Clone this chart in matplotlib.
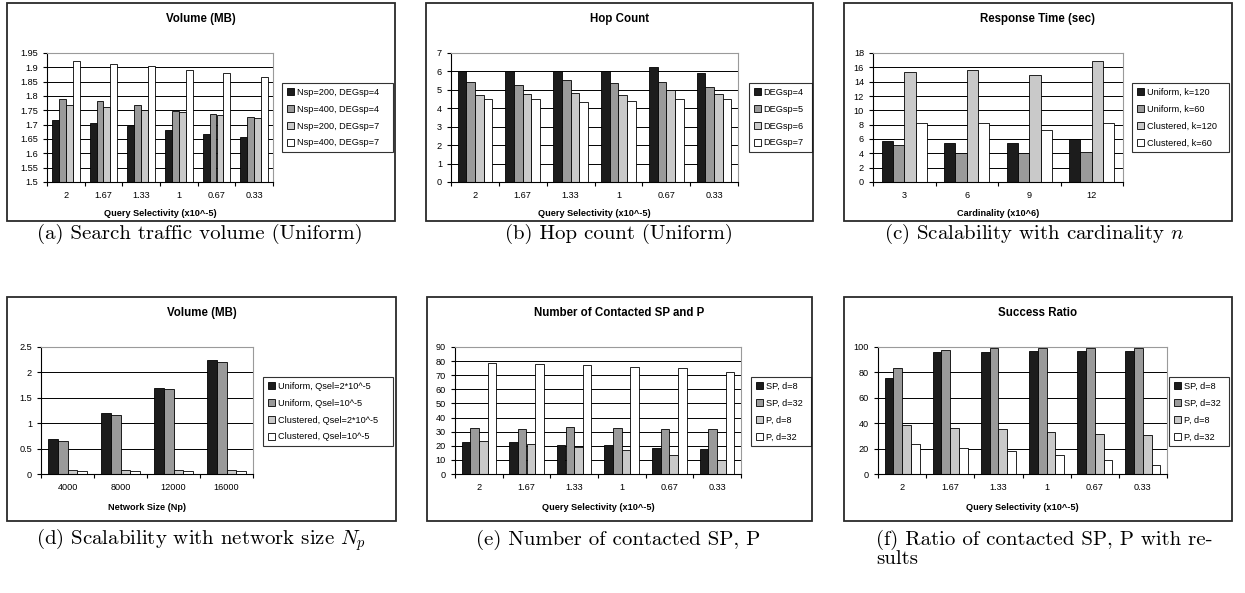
import numpy as np
import matplotlib
matplotlib.use('Agg')
import matplotlib.pyplot as plt
from matplotlib.patches import Rectangle, Patch

W, H = 1245, 593
plt.rcParams['font.family'] = ['Liberation Sans', 'DejaVu Sans']
plt.rcParams['mathtext.fontset'] = 'cm'

# ---------------- data ----------------
sel_cats = ['2', '1.67', '1.33', '1', '0.67', '0.33']

# (a) Volume (MB), uniform
vol_labels = ['Nsp=200, DEGsp=4', 'Nsp=400, DEGsp=4', 'Nsp=200, DEGsp=7', 'Nsp=400, DEGsp=7']
vol_n200_d4 = [1.716, 1.706, 1.696, 1.681, 1.667, 1.657]
vol_n400_d4 = [1.790, 1.781, 1.767, 1.749, 1.737, 1.726]
vol_n200_d7 = [1.770, 1.760, 1.750, 1.743, 1.733, 1.723]
vol_n400_d7 = [1.922, 1.912, 1.903, 1.892, 1.880, 1.868]
vol_yticks = [1.5, 1.55, 1.6, 1.65, 1.7, 1.75, 1.8, 1.85, 1.9, 1.95]
vol_yticklabels = ['1.5', '1.55', '1.6', '1.65', '1.7', '1.75', '1.8', '1.85', '1.9', '1.95']

# (b) Hop count
hop_labels = ['DEGsp=4', 'DEGsp=5', 'DEGsp=6', 'DEGsp=7']
hop_d4 = [6.0, 6.0, 6.0, 6.0, 6.22, 5.91]
hop_d5 = [5.42, 5.29, 5.53, 5.36, 5.42, 5.18]
hop_d6 = [4.73, 4.76, 4.82, 4.73, 5.0, 4.75]
hop_d7 = [4.51, 4.51, 4.36, 4.40, 4.49, 4.49]
hop_yticks = [0, 1, 2, 3, 4, 5, 6, 7]
hop_yticklabels = ['0', '1', '2', '3', '4', '5', '6', '7']

# (c) Response time vs cardinality
card_cats = ['3', '6', '9', '12']
rt_labels = ['Uniform, k=120', 'Uniform, k=60', 'Clustered, k=120', 'Clustered, k=60']
rt_uni_120 = [5.7, 5.5, 5.5, 6.0]
rt_uni_60 = [5.1, 4.0, 4.1, 4.2]
rt_clu_120 = [15.3, 15.6, 14.9, 16.9]
rt_clu_60 = [8.2, 8.3, 7.3, 8.2]
rt_yticks = [0, 2, 4, 6, 8, 10, 12, 14, 16, 18]
rt_yticklabels = ['0', '2', '4', '6', '8', '10', '12', '14', '16', '18']

# (d) Volume vs network size
np_cats = ['4000', '8000', '12000', '16000']
nv_labels = ['Uniform, Qsel=2*10^-5', 'Uniform, Qsel=10^-5', 'Clustered, Qsel=2*10^-5', 'Clustered, Qsel=10^-5']
nv_uni_2 = [0.69, 1.21, 1.70, 2.24]
nv_uni_1 = [0.64, 1.17, 1.68, 2.21]
nv_clu_2 = [0.085, 0.085, 0.085, 0.085]
nv_clu_1 = [0.05, 0.05, 0.05, 0.05]
nv_yticks = [0, 0.5, 1, 1.5, 2, 2.5]
nv_yticklabels = ['0', '0.5', '1', '1.5', '2', '2.5']

# (e) Number of contacted SP and P
sp_labels = ['SP, d=8', 'SP, d=32', 'P, d=8', 'P, d=32']
cnt_sp8 = [22.9, 22.4, 20.3, 20.3, 18.7, 18.0]
cnt_sp32 = [32.6, 31.9, 33.1, 32.6, 31.9, 31.9]
cnt_p8 = [23.6, 21.0, 19.1, 17.0, 13.7, 10.2]
cnt_p32 = [78.7, 78.0, 77.0, 75.8, 74.9, 72.5]
cnt_yticks = [0, 10, 20, 30, 40, 50, 60, 70, 80, 90]
cnt_yticklabels = ['0', '10', '20', '30', '40', '50', '60', '70', '80', '90']

# (f) Success ratio
sr_sp8 = [75.6, 96.2, 96.2, 97.0, 97.2, 96.5]
sr_sp32 = [83.5, 97.9, 99.6, 99.6, 99.6, 99.6]
sr_p8 = [38.6, 36.2, 35.7, 33.0, 31.8, 31.0]
sr_p32 = [23.4, 20.2, 17.8, 15.2, 11.3, 7.3]
sr_yticks = [0, 20, 40, 60, 80, 100]
sr_yticklabels = ['0', '20', '40', '60', '80', '100']

bar_colors = ['#1c1c1c', '#9a9a9a', '#c9c9c9', '#ffffff']


def fbox(x0, y0, x1, y1):
    return [x0 / W, 1 - y1 / H, (x1 - x0) / W, (y1 - y0) / H]


fig = plt.figure(figsize=(W / 100, H / 100), dpi=100)

panels = [
    dict(box=(7, 3, 395, 221), ax=(47, 53, 273, 182), leg=(282, 83, 393, 152),
         title='Volume (MB)', ty=19, xlabel='Query Selectivity (x10^-5)', xly=213,
         cats=sel_cats, series=[vol_n200_d4, vol_n400_d4, vol_n200_d7, vol_n400_d7],
         labels=vol_labels, yt=vol_yticks, ytl=vol_yticklabels,
         cap='(a) Search traffic volume (Uniform)', capx=200, capy=234),
    dict(box=(426, 3, 813, 221), ax=(451, 53, 738, 182), leg=(749, 83, 812, 152),
         title='Hop Count', ty=19, xlabel='Query Selectivity (x10^-5)', xly=213,
         cats=sel_cats, series=[hop_d4, hop_d5, hop_d6, hop_d7],
         labels=hop_labels, yt=hop_yticks, ytl=hop_yticklabels,
         cap='(b) Hop count (Uniform)', capx=619, capy=234),
    dict(box=(844, 3, 1232, 221), ax=(873, 53, 1123, 182), leg=(1132, 83, 1229, 152),
         title='Response Time (sec)', ty=19, xlabel='Cardinality (x10^6)', xly=213,
         cats=card_cats, series=[rt_uni_120, rt_uni_60, rt_clu_120, rt_clu_60],
         labels=rt_labels, yt=rt_yticks, ytl=rt_yticklabels,
         cap='(c) Scalability with cardinality $n$', capx=1034, capy=234),
    dict(box=(7, 297, 396, 521), ax=(41, 347, 253, 474), leg=(263, 377, 393, 445),
         title='Volume (MB)', ty=313, xlabel='Network Size (Np)', xly=507,
         cats=np_cats, series=[nv_uni_2, nv_uni_1, nv_clu_2, nv_clu_1],
         labels=nv_labels, yt=nv_yticks, ytl=nv_yticklabels,
         cap='(d) Scalability with network size $N_p$', capx=201, capy=540),
    dict(box=(427, 297, 812, 521), ax=(455, 347, 741, 474), leg=(751, 377, 811, 445),
         title='Number of Contacted SP and P', ty=313, xlabel='Query Selectivity (x10^-5)', xly=507,
         cats=sel_cats, series=[cnt_sp8, cnt_sp32, cnt_p8, cnt_p32],
         labels=sp_labels, yt=cnt_yticks, ytl=cnt_yticklabels,
         cap='(e) Number of contacted SP, P', capx=618, capy=540),
    dict(box=(844, 297, 1232, 521), ax=(878, 347, 1167, 474), leg=(1169, 377, 1229, 445),
         title='Success Ratio', ty=313, xlabel='Query Selectivity (x10^-5)', xly=507,
         cats=sel_cats, series=[sr_sp8, sr_sp32, sr_p8, sr_p32],
         labels=sp_labels, yt=sr_yticks, ytl=sr_yticklabels,
         cap=None, capx=None, capy=None),
]

cap_size = 15

w = 1 / 5.5
for p in panels:
    # panel frame
    bx0, by0, bx1, by1 = p['box']
    fig.patches.append(Rectangle((bx0 / W, 1 - by1 / H), (bx1 - bx0) / W, (by1 - by0) / H,
                                 transform=fig.transFigure, fill=False,
                                 edgecolor='#2a2a2a', lw=1.3, zorder=0))
    ax = fig.add_axes(fbox(*p['ax']))
    n = len(p['cats'])
    x = np.arange(n)
    handles = []
    for i, s in enumerate(p['series']):
        ax.bar(x + (i - 1.5) * w, s, width=w, color=bar_colors[i],
               edgecolor='black', linewidth=0.6, zorder=2)
        handles.append(Patch(facecolor=bar_colors[i], edgecolor='black', linewidth=0.6))
    ax.set_xlim(-0.5, n - 0.5)
    ax.set_ylim(p['yt'][0], p['yt'][-1])
    ax.set_yticks(p['yt'])
    ax.set_yticklabels(p['ytl'])
    ax.set_xticks(np.arange(n + 1) - 0.5)
    ax.set_xticklabels([])
    ax.set_xticks(x, minor=True)
    ax.set_xticklabels(p['cats'], minor=True)
    ax.tick_params(axis='x', which='major', direction='out', length=3, width=0.8, color='black')
    ax.tick_params(axis='x', which='minor', length=0, pad=6.5, labelsize=6.6)
    ax.tick_params(axis='y', direction='out', length=3, width=0.8, pad=3.5, labelsize=6.6)
    ax.yaxis.grid(True, color='black', lw=0.7)
    ax.set_axisbelow(True)
    ax.spines['top'].set_color('#9a9a9a')
    ax.spines['right'].set_color('#9a9a9a')
    ax.spines['left'].set_color('black')
    ax.spines['bottom'].set_color('black')
    for sp in ax.spines.values():
        sp.set_linewidth(0.8)
    # title and x label
    fig.text((bx0 + bx1) / 2 / W, 1 - p['ty'] / H, p['title'], ha='center', va='center',
             fontsize=8.3, fontweight='bold')
    ax0, ay0, ax1, ay1 = p['ax']
    ax.set_xlabel(p['xlabel'], fontsize=6.6, fontweight='bold')
    ax.xaxis.set_label_coords((ax0 + ax1) / 2 / W, 1 - p['xly'] / H, transform=fig.transFigure)
    ax.xaxis.label.set_va('center')
    # legend
    lx0, ly0, lx1, ly1 = p['leg']
    leg = fig.legend(handles, p['labels'], loc='upper left',
                     bbox_to_anchor=(lx0 / W, 1 - ly0 / H, (lx1 - lx0) / W, 0),
                     mode='expand', borderaxespad=0, fontsize=6.6, frameon=True,
                     fancybox=False, edgecolor='black', handlelength=0.75, handleheight=0.75,
                     handletextpad=0.3, labelspacing=0.85, borderpad=0.55)
    leg.get_frame().set_linewidth(0.8)
    # caption
    if p['cap']:
        fig.text(p['capx'] / W, 1 - p['capy'] / H, p['cap'], ha='center', va='center',
                 fontsize=cap_size, family='cmr10')

fig.text(876 / W, 1 - 540 / H, '(f) Ratio of contacted SP, P with re-', ha='left', va='center',
         fontsize=cap_size, family='cmr10')
fig.text(876 / W, 1 - 559 / H, 'sults', ha='left', va='center', fontsize=cap_size, family='cmr10')

fig.savefig('out.png', dpi=100)
